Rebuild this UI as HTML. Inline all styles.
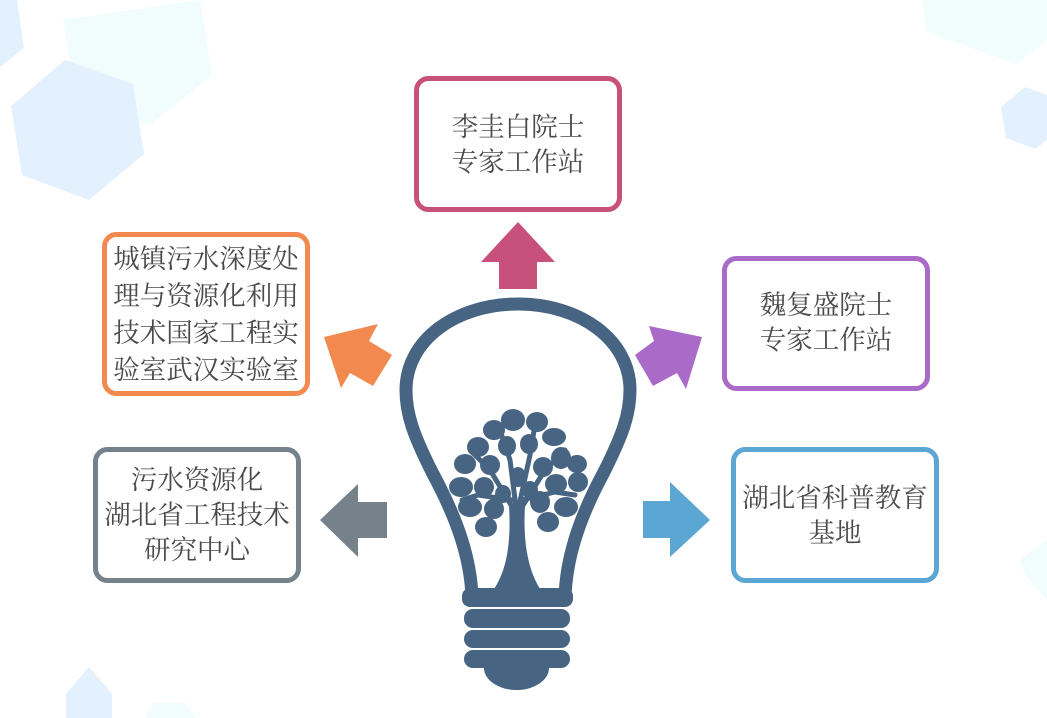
<!DOCTYPE html>
<html><head><meta charset="utf-8"><style>
html,body{margin:0;padding:0;background:#fff;width:1047px;height:718px;overflow:hidden;}
svg{display:block;}
text{font-family:"Noto Serif CJK SC","Liberation Serif",serif;font-size:26.5px;fill:#4a4a4a;text-anchor:middle;}
</style></head><body>
<svg width="1047" height="718" viewBox="0 0 1047 718" xmlns="http://www.w3.org/2000/svg" overflow="hidden">
<polygon points="63,20 200,0 212,75 150,125 76,98" fill="#f0fdfc"/>
<polygon points="0,0 17,0 24,48 0,67" fill="#e3f0fe"/>
<polygon points="65,60 133,84 144,154 89,200 22,175 11,106" fill="#e3f0fe"/>
<polygon points="922,0 1047,0 1047,40 1016,64 927,32" fill="#f0fdfc"/>
<polygon points="1025,87 1047,95 1047,140 1035,149 1006,138 1001,107" fill="#e3f0fe"/>
<polygon points="89,667 112,694 112,718 66,718 66,694" fill="#e3f0fe"/>
<polygon points="153,703 186,703 196,718 145,718" fill="#f0fdfc"/>
<polygon points="1020,560 1047,540 1047,600 1025,575" fill="#f0fdfc"/>

<rect x="416.5" y="78.5" width="203" height="131" rx="12" fill="#fff" stroke="#c7517a" stroke-width="5"/>
<rect x="104.5" y="234.5" width="203" height="159" rx="12" fill="#fff" stroke="#f28a50" stroke-width="5"/>
<rect x="724.5" y="258.5" width="203" height="130" rx="12" fill="#fff" stroke="#a96bc7" stroke-width="5"/>
<rect x="95.5" y="449.5" width="203" height="131" rx="12" fill="#fff" stroke="#75828b" stroke-width="5"/>
<rect x="733.5" y="449.5" width="203" height="131" rx="12" fill="#fff" stroke="#5ba6d2" stroke-width="5"/>

<text x="518" y="136">李圭白院士</text>
<text x="518" y="171">专家工作站</text>
<text x="206" y="268">城镇污水深度处</text>
<text x="206" y="305">理与资源化利用</text>
<text x="206" y="342">技术国家工程实</text>
<text x="206" y="379">验室武汉实验室</text>
<text x="826" y="314">魏复盛院士</text>
<text x="826" y="349">专家工作站</text>
<text x="197" y="489">污水资源化</text>
<text x="197" y="524">湖北省工程技术</text>
<text x="197" y="559">研究中心</text>
<text x="835" y="507">湖北省科普教育</text>
<text x="835" y="542">基地</text>

<polygon points="518,222 555,262 537,262 537,289 499,289 499,262 481,262" fill="#c7517a"/>
<polygon points="324,337 378,324 369,341 392,355 373,386 350,373 341,388" fill="#f28a50"/>
<polygon points="702,337 649,326 654,341 635,355 653,386 677,373 686,389" fill="#a96bc7"/>
<polygon points="320,520 358,484 358,502 387,502 387,538 358,538 358,557" fill="#75828b"/>
<polygon points="710,520 670,482 670,501 643,501 643,538 670,538 670,557" fill="#5ba6d2"/>

<g fill="#476582" stroke="none">
<path d="M472,598 C471,560 458,520 432,472 C414,436 406,415 406,390 C406,340 456,304 518,304 C580,304 630,340 630,390 C630,415 622,436 604,472 C578,520 566,560 565,598" fill="none" stroke="#476582" stroke-width="13"/>
<rect x="462" y="588" width="111" height="19" rx="8"/>
<rect x="464" y="609" width="106" height="19" rx="9"/>
<rect x="464" y="630" width="106" height="18" rx="9"/>
<rect x="464" y="650" width="106" height="18" rx="9"/>
<path d="M484,668 L549,668 A32.5,22 0 0 1 484,668 Z"/>
<path d="M509,505 C511,540 508,570 492,592 L542,592 C527,570 523,540 525,505 Z"/>
<g fill="none" stroke="#476582" stroke-width="5" stroke-linecap="round">
<path d="M517,515 L490,470 L470,450"/>
<path d="M517,515 L545,470 L565,450"/>
<path d="M517,515 L510,460 L500,430"/>
<path d="M517,515 L530,455 L535,425"/>
<path d="M512,500 L478,495 L462,500"/>
<path d="M522,500 L555,492 L575,495"/>
</g>
<ellipse cx="513" cy="420" rx="12" ry="11"/>
<ellipse cx="537" cy="422" rx="11" ry="10"/>
<ellipse cx="494" cy="430" rx="11" ry="10"/>
<ellipse cx="554" cy="437" rx="12" ry="9"/>
<ellipse cx="478" cy="447" rx="11" ry="10"/>
<ellipse cx="507" cy="446" rx="9" ry="10"/>
<ellipse cx="529" cy="444" rx="9" ry="10"/>
<ellipse cx="561" cy="458" rx="10" ry="11"/>
<ellipse cx="577" cy="464" rx="10" ry="9"/>
<ellipse cx="465" cy="464" rx="11" ry="10"/>
<ellipse cx="490" cy="465" rx="10" ry="10"/>
<ellipse cx="543" cy="467" rx="10" ry="10"/>
<ellipse cx="461" cy="487" rx="12" ry="10"/>
<ellipse cx="484" cy="487" rx="10" ry="10"/>
<ellipse cx="518" cy="477" rx="8" ry="10"/>
<ellipse cx="556" cy="484" rx="11" ry="10"/>
<ellipse cx="578" cy="482" rx="10" ry="10"/>
<ellipse cx="470" cy="507" rx="12" ry="10"/>
<ellipse cx="494" cy="509" rx="10" ry="10"/>
<ellipse cx="540" cy="502" rx="10" ry="11"/>
<ellipse cx="566" cy="507" rx="12" ry="10"/>
<ellipse cx="486" cy="527" rx="11" ry="10"/>
<ellipse cx="548" cy="522" rx="11" ry="10"/>
<ellipse cx="503" cy="494" rx="8" ry="9"/>
<ellipse cx="530" cy="490" rx="8" ry="9"/>
</g>
</svg>
</body></html>
